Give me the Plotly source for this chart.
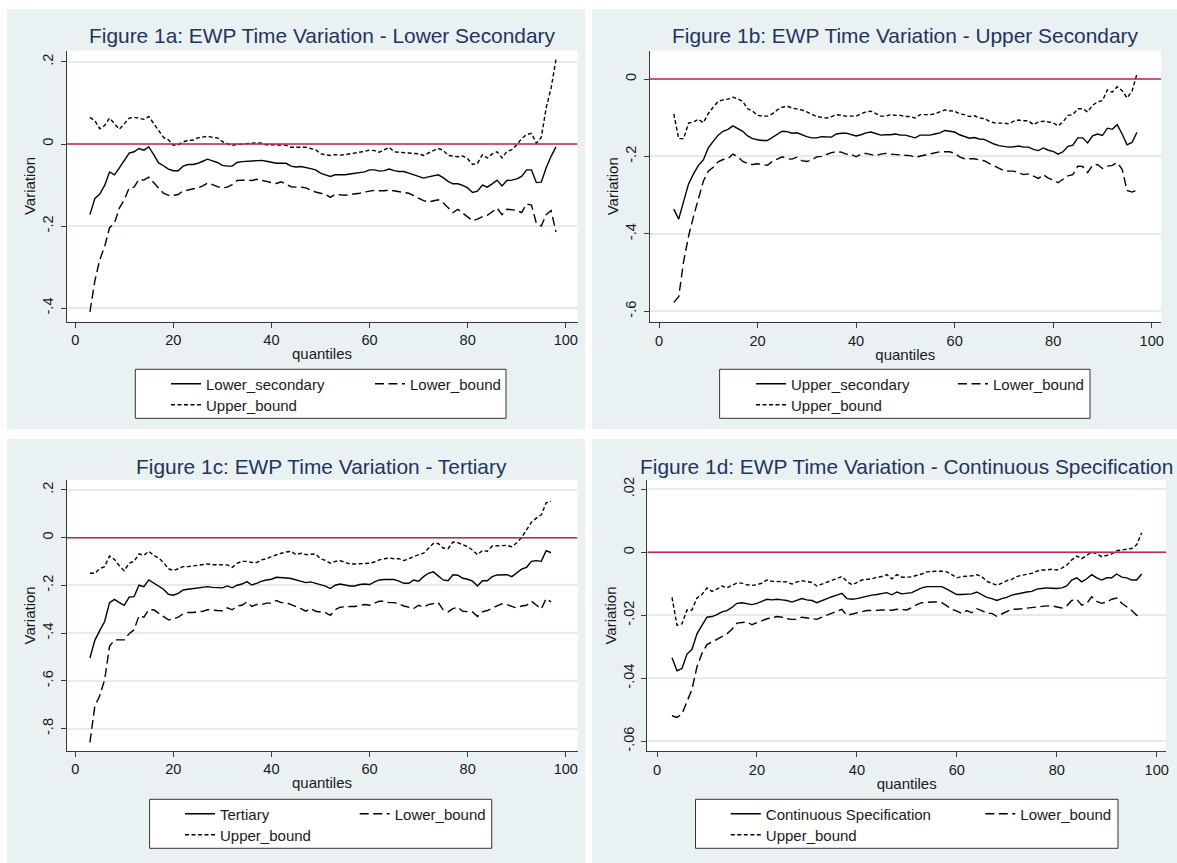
import plotly.graph_objects as go

W, H = 1177, 863
FONT = "Liberation Sans, Arial, sans-serif"

# ---------------- data ----------------
quantiles_a = [3, 4, 5, 6, 7, 8, 9, 10, 11, 12, 13, 14, 15, 16, 17, 18, 19, 20, 21, 22, 23, 24, 25, 26, 27,
               28, 29, 30, 31, 32, 33, 34, 35, 36, 37, 38, 39, 40, 41, 42, 43, 44, 45, 46, 47, 48, 49, 50,
               51, 52, 53, 54, 55, 56, 57, 58, 59, 60, 61, 62, 63, 64, 65, 66, 67, 68, 69, 70, 71, 72, 73,
               74, 75, 76, 77, 78, 79, 80, 81, 82, 83, 84, 85, 86, 87, 88, 89, 90, 91, 92, 93, 94, 95, 96,
               97, 98]
quantiles_bcd = [3, 4, 5, 6, 7, 8, 9, 10, 11, 12, 13, 14, 15, 16, 17, 18, 19, 20, 21, 22, 23, 24, 25, 26, 27,
                 28, 29, 30, 31, 32, 33, 34, 35, 36, 37, 38, 39, 40, 41, 42, 43, 44, 45, 46, 47, 48, 49, 50,
                 51, 52, 53, 54, 55, 56, 57, 58, 59, 60, 61, 62, 63, 64, 65, 66, 67, 68, 69, 70, 71, 72, 73,
                 74, 75, 76, 77, 78, 79, 80, 81, 82, 83, 84, 85, 86, 87, 88, 89, 90, 91, 92, 93, 94, 95, 96,
                 97]

lower_secondary = [-0.172, -0.133, -0.122, -0.101, -0.068, -0.075, -0.058, -0.041, -0.022, -0.019, -0.011,
                   -0.015, -0.007, -0.026, -0.046, -0.053, -0.061, -0.065, -0.065, -0.054, -0.050, -0.050,
                   -0.047, -0.042, -0.037, -0.041, -0.045, -0.052, -0.054, -0.054, -0.045, -0.043, -0.042,
                   -0.042, -0.041, -0.040, -0.042, -0.045, -0.047, -0.047, -0.047, -0.054, -0.056, -0.055,
                   -0.057, -0.060, -0.063, -0.071, -0.075, -0.079, -0.075, -0.075, -0.075, -0.073, -0.071,
                   -0.069, -0.068, -0.063, -0.063, -0.066, -0.065, -0.061, -0.065, -0.067, -0.067, -0.071,
                   -0.075, -0.079, -0.083, -0.080, -0.078, -0.075, -0.082, -0.091, -0.097, -0.097, -0.101,
                   -0.107, -0.118, -0.115, -0.100, -0.105, -0.097, -0.088, -0.102, -0.089, -0.088, -0.085,
                   -0.079, -0.063, -0.063, -0.094, -0.093, -0.058, -0.030, -0.007]
lower_secondary_lb = [-0.409, -0.334, -0.282, -0.250, -0.204, -0.193, -0.156, -0.136, -0.107, -0.105, -0.086,
                      -0.088, -0.081, -0.094, -0.109, -0.120, -0.125, -0.125, -0.123, -0.114, -0.112, -0.110,
                      -0.107, -0.102, -0.095, -0.099, -0.104, -0.107, -0.105, -0.099, -0.089, -0.088, -0.088,
                      -0.089, -0.086, -0.088, -0.091, -0.094, -0.096, -0.092, -0.099, -0.104, -0.105, -0.105,
                      -0.107, -0.112, -0.117, -0.120, -0.123, -0.130, -0.123, -0.124, -0.125, -0.123, -0.122,
                      -0.120, -0.117, -0.115, -0.113, -0.114, -0.114, -0.112, -0.114, -0.115, -0.118, -0.120,
                      -0.126, -0.133, -0.138, -0.141, -0.138, -0.136, -0.143, -0.154, -0.167, -0.159, -0.169,
                      -0.177, -0.187, -0.183, -0.177, -0.174, -0.165, -0.156, -0.172, -0.159, -0.160, -0.162,
                      -0.167, -0.146, -0.149, -0.193, -0.200, -0.172, -0.162, -0.214]
lower_secondary_ub = [0.065, 0.057, 0.037, 0.045, 0.063, 0.049, 0.036, 0.049, 0.063, 0.065, 0.062, 0.060,
                      0.067, 0.049, 0.031, 0.016, 0.010, -0.003, -0.002, 0.005, 0.009, 0.009, 0.015, 0.017,
                      0.019, 0.016, 0.015, 0.006, 0.001, -0.004, 0.000, -0.001, 0.001, 0.002, 0.003, 0.002,
                      -0.002, -0.002, -0.002, -0.002, -0.003, -0.008, -0.008, -0.007, -0.008, -0.011, -0.014,
                      -0.024, -0.026, -0.028, -0.026, -0.027, -0.026, -0.024, -0.022, -0.021, -0.018, -0.015,
                      -0.016, -0.020, -0.013, -0.008, -0.019, -0.020, -0.021, -0.023, -0.023, -0.024, -0.028,
                      -0.021, -0.016, -0.011, -0.015, -0.028, -0.029, -0.031, -0.029, -0.036, -0.050, -0.047,
                      -0.026, -0.034, -0.024, -0.019, -0.034, -0.018, -0.014, -0.002, 0.013, 0.023, 0.026,
                      0.002, 0.016, 0.088, 0.136, 0.206]

upper_secondary = [-0.336, -0.362, -0.316, -0.271, -0.245, -0.223, -0.209, -0.178, -0.161, -0.145, -0.135,
                   -0.130, -0.121, -0.127, -0.135, -0.147, -0.154, -0.157, -0.159, -0.159, -0.151, -0.144,
                   -0.135, -0.136, -0.140, -0.139, -0.145, -0.149, -0.152, -0.152, -0.149, -0.149, -0.150,
                   -0.142, -0.140, -0.140, -0.144, -0.147, -0.144, -0.139, -0.137, -0.142, -0.145, -0.144,
                   -0.144, -0.142, -0.145, -0.145, -0.149, -0.152, -0.145, -0.145, -0.145, -0.142, -0.139,
                   -0.133, -0.135, -0.137, -0.144, -0.149, -0.153, -0.151, -0.155, -0.156, -0.163, -0.168,
                   -0.172, -0.175, -0.176, -0.175, -0.173, -0.176, -0.176, -0.182, -0.185, -0.178, -0.184,
                   -0.187, -0.194, -0.188, -0.174, -0.171, -0.152, -0.152, -0.165, -0.147, -0.142, -0.146,
                   -0.127, -0.130, -0.118, -0.142, -0.170, -0.164, -0.138]
upper_secondary_lb = [-0.577, -0.562, -0.471, -0.406, -0.355, -0.307, -0.264, -0.238, -0.228, -0.214, -0.208,
                      -0.206, -0.194, -0.201, -0.213, -0.218, -0.221, -0.219, -0.221, -0.223, -0.213, -0.207,
                      -0.201, -0.206, -0.207, -0.202, -0.211, -0.213, -0.209, -0.201, -0.200, -0.195, -0.190,
                      -0.188, -0.189, -0.194, -0.195, -0.201, -0.194, -0.192, -0.195, -0.198, -0.194, -0.192,
                      -0.194, -0.195, -0.197, -0.198, -0.198, -0.202, -0.199, -0.197, -0.195, -0.192, -0.188,
                      -0.188, -0.188, -0.192, -0.201, -0.206, -0.206, -0.206, -0.209, -0.211, -0.218, -0.225,
                      -0.231, -0.237, -0.238, -0.238, -0.242, -0.247, -0.245, -0.250, -0.257, -0.247, -0.256,
                      -0.261, -0.268, -0.259, -0.250, -0.247, -0.225, -0.226, -0.242, -0.223, -0.221, -0.231,
                      -0.225, -0.223, -0.216, -0.233, -0.288, -0.292, -0.287]
upper_secondary_ub = [-0.090, -0.154, -0.154, -0.114, -0.111, -0.104, -0.113, -0.089, -0.073, -0.058, -0.054,
                      -0.052, -0.047, -0.051, -0.058, -0.077, -0.083, -0.094, -0.096, -0.096, -0.090, -0.080,
                      -0.073, -0.070, -0.075, -0.078, -0.080, -0.085, -0.090, -0.097, -0.099, -0.101, -0.097,
                      -0.092, -0.094, -0.096, -0.096, -0.096, -0.090, -0.085, -0.083, -0.089, -0.096, -0.096,
                      -0.092, -0.094, -0.094, -0.097, -0.097, -0.101, -0.092, -0.092, -0.092, -0.090, -0.085,
                      -0.080, -0.082, -0.083, -0.090, -0.092, -0.097, -0.095, -0.101, -0.102, -0.109, -0.113,
                      -0.114, -0.114, -0.116, -0.109, -0.106, -0.108, -0.108, -0.118, -0.111, -0.109, -0.111,
                      -0.113, -0.121, -0.111, -0.094, -0.092, -0.077, -0.077, -0.085, -0.068, -0.059, -0.056,
                      -0.028, -0.034, -0.020, -0.030, -0.049, -0.032, 0.013]

tertiary = [-0.504, -0.430, -0.389, -0.351, -0.272, -0.258, -0.272, -0.283, -0.249, -0.247, -0.199, -0.205,
            -0.177, -0.191, -0.202, -0.216, -0.237, -0.241, -0.233, -0.219, -0.216, -0.213, -0.212, -0.210,
            -0.205, -0.208, -0.208, -0.210, -0.202, -0.210, -0.199, -0.194, -0.184, -0.198, -0.191, -0.182,
            -0.177, -0.174, -0.166, -0.169, -0.169, -0.171, -0.177, -0.180, -0.188, -0.185, -0.191, -0.199,
            -0.203, -0.213, -0.199, -0.194, -0.199, -0.202, -0.202, -0.196, -0.194, -0.196, -0.185, -0.177,
            -0.175, -0.175, -0.175, -0.182, -0.191, -0.191, -0.177, -0.182, -0.163, -0.149, -0.143, -0.160,
            -0.177, -0.180, -0.155, -0.157, -0.170, -0.174, -0.182, -0.202, -0.180, -0.180, -0.163, -0.156,
            -0.155, -0.155, -0.163, -0.149, -0.132, -0.124, -0.099, -0.096, -0.099, -0.054, -0.063]
tertiary_lb = [-0.857, -0.706, -0.662, -0.595, -0.455, -0.428, -0.428, -0.428, -0.402, -0.386, -0.327, -0.333,
               -0.302, -0.302, -0.316, -0.330, -0.344, -0.341, -0.333, -0.319, -0.313, -0.313, -0.311, -0.308,
               -0.302, -0.302, -0.305, -0.306, -0.294, -0.302, -0.286, -0.283, -0.269, -0.288, -0.280, -0.280,
               -0.274, -0.274, -0.263, -0.272, -0.272, -0.280, -0.288, -0.297, -0.308, -0.297, -0.308, -0.311,
               -0.314, -0.325, -0.302, -0.291, -0.288, -0.288, -0.288, -0.283, -0.280, -0.283, -0.274, -0.266,
               -0.266, -0.272, -0.272, -0.277, -0.286, -0.291, -0.297, -0.283, -0.291, -0.280, -0.277, -0.272,
               -0.302, -0.311, -0.297, -0.291, -0.308, -0.311, -0.311, -0.330, -0.311, -0.305, -0.294, -0.286,
               -0.277, -0.280, -0.288, -0.294, -0.286, -0.283, -0.266, -0.283, -0.299, -0.255, -0.269]
tertiary_ub = [-0.149, -0.149, -0.130, -0.121, -0.077, -0.091, -0.118, -0.138, -0.107, -0.099, -0.068, -0.074,
               -0.057, -0.074, -0.085, -0.104, -0.130, -0.138, -0.130, -0.121, -0.121, -0.118, -0.116, -0.110,
               -0.110, -0.113, -0.113, -0.113, -0.114, -0.124, -0.107, -0.099, -0.099, -0.104, -0.104, -0.093,
               -0.088, -0.079, -0.071, -0.065, -0.060, -0.057, -0.071, -0.065, -0.071, -0.071, -0.068, -0.088,
               -0.095, -0.107, -0.099, -0.096, -0.104, -0.110, -0.110, -0.110, -0.110, -0.107, -0.102, -0.093,
               -0.088, -0.085, -0.088, -0.088, -0.096, -0.088, -0.077, -0.071, -0.065, -0.043, -0.024, -0.024,
               -0.043, -0.046, -0.018, -0.021, -0.029, -0.038, -0.052, -0.071, -0.054, -0.057, -0.035, -0.035,
               -0.032, -0.032, -0.038, -0.021, 0.001, 0.032, 0.065, 0.082, 0.096, 0.146, 0.152]

continuous = [-0.0335, -0.0376, -0.0369, -0.0323, -0.0308, -0.0259, -0.0232, -0.0206, -0.0204, -0.0198,
              -0.0189, -0.0185, -0.0175, -0.0162, -0.0160, -0.0164, -0.0166, -0.0162, -0.0156, -0.0149,
              -0.0151, -0.0149, -0.0151, -0.0153, -0.0158, -0.0153, -0.0147, -0.0151, -0.0153, -0.0160,
              -0.0153, -0.0147, -0.0141, -0.0136, -0.0130, -0.0147, -0.0149, -0.0147, -0.0143, -0.0139,
              -0.0136, -0.0134, -0.0130, -0.0128, -0.0135, -0.0126, -0.0132, -0.0130, -0.0128, -0.0120,
              -0.0113, -0.0109, -0.0109, -0.0109, -0.0109, -0.0117, -0.0126, -0.0134, -0.0134, -0.0134,
              -0.0132, -0.0126, -0.0134, -0.0143, -0.0147, -0.0153, -0.0147, -0.0143, -0.0136, -0.0132,
              -0.0128, -0.0126, -0.0124, -0.0117, -0.0115, -0.0113, -0.0114, -0.0115, -0.0113, -0.0107,
              -0.0088, -0.0081, -0.0094, -0.0084, -0.0071, -0.0081, -0.0088, -0.0081, -0.0081, -0.0069,
              -0.0079, -0.0081, -0.0088, -0.0088, -0.0069]
continuous_lb = [-0.0519, -0.0524, -0.0513, -0.0473, -0.0435, -0.0363, -0.0321, -0.0293, -0.0285, -0.0278,
                 -0.0268, -0.0259, -0.0244, -0.0225, -0.0223, -0.0221, -0.0230, -0.0223, -0.0217, -0.0211,
                 -0.0208, -0.0204, -0.0206, -0.0211, -0.0213, -0.0213, -0.0206, -0.0208, -0.0211, -0.0213,
                 -0.0206, -0.0200, -0.0194, -0.0189, -0.0181, -0.0200, -0.0196, -0.0192, -0.0189, -0.0185,
                 -0.0185, -0.0183, -0.0183, -0.0183, -0.0184, -0.0181, -0.0183, -0.0183, -0.0175, -0.0166,
                 -0.0160, -0.0158, -0.0158, -0.0158, -0.0160, -0.0170, -0.0181, -0.0187, -0.0194, -0.0185,
                 -0.0192, -0.0179, -0.0185, -0.0194, -0.0194, -0.0203, -0.0196, -0.0187, -0.0181, -0.0181,
                 -0.0179, -0.0177, -0.0175, -0.0173, -0.0173, -0.0170, -0.0170, -0.0173, -0.0177, -0.0170,
                 -0.0153, -0.0149, -0.0168, -0.0162, -0.0141, -0.0156, -0.0162, -0.0158, -0.0149, -0.0145,
                 -0.0162, -0.0173, -0.0185, -0.0200, -0.0203]
continuous_ub = [-0.0143, -0.0232, -0.0227, -0.0183, -0.0183, -0.0145, -0.0134, -0.0113, -0.0124, -0.0117,
                 -0.0107, -0.0113, -0.0105, -0.0098, -0.0098, -0.0103, -0.0105, -0.0103, -0.0098, -0.0088,
                 -0.0092, -0.0092, -0.0094, -0.0094, -0.0101, -0.0094, -0.0090, -0.0094, -0.0096, -0.0107,
                 -0.0101, -0.0094, -0.0090, -0.0084, -0.0077, -0.0092, -0.0103, -0.0096, -0.0088, -0.0086,
                 -0.0084, -0.0079, -0.0077, -0.0071, -0.0084, -0.0071, -0.0079, -0.0079, -0.0078, -0.0073,
                 -0.0069, -0.0062, -0.0060, -0.0060, -0.0060, -0.0062, -0.0071, -0.0081, -0.0077, -0.0077,
                 -0.0075, -0.0071, -0.0077, -0.0092, -0.0098, -0.0105, -0.0098, -0.0090, -0.0086, -0.0077,
                 -0.0073, -0.0071, -0.0067, -0.0060, -0.0056, -0.0056, -0.0054, -0.0056, -0.0050, -0.0041,
                 -0.0024, -0.0012, -0.0020, -0.0010, 0.0001, -0.0005, -0.0014, -0.0010, -0.0005, 0.0005,
                 0.0007, 0.0010, 0.0012, 0.0024, 0.0062]

x_tickvals = [0, 20, 40, 60, 80, 100]
x_ticktext = ["0", "20", "40", "60", "80", "100"]
yticks_a = [0.2, 0, -0.2, -0.4]
yticktext_a = [".2", "0", "-.2", "-.4"]
yticks_b = [0, -0.2, -0.4, -0.6]
yticktext_b = ["0", "-.2", "-.4", "-.6"]
yticks_c = [0.2, 0, -0.2, -0.4, -0.6, -0.8]
yticktext_c = [".2", "0", "-.2", "-.4", "-.6", "-.8"]
yticks_d = [0.02, 0, -0.02, -0.04, -0.06]
yticktext_d = [".02", "0", "-.02", "-.04", "-.06"]

titles = ["Figure 1a: EWP Time Variation - Lower Secondary",
          "Figure 1b: EWP Time Variation - Upper Secondary",
          "Figure 1c: EWP Time Variation - Tertiary",
          "Figure 1d: EWP Time Variation - Continuous Specification"]
main_names = ["Lower_secondary", "Upper_secondary", "Tertiary", "Continuous Specification"]

# ---------------- layout geometry (pixels) ----------------
panels = [
    dict(q=quantiles_a, main=lower_secondary, lb=lower_secondary_lb, ub=lower_secondary_ub,
         yt=yticks_a, ytt=yticktext_a,
         bg=(7, 585, 9, 429), plot=(66.5, 577.5, 50.5, 321.5), xpx=(75.2, 565.8), ypx=((0, 144.0), (-0.4, 308.2)),
         title_xy=(322, 36), leg=(135.3, 506, 369.3, 418.3), text1=206, text2=410, rows=(384, 405)),
    dict(q=quantiles_bcd, main=upper_secondary, lb=upper_secondary_lb, ub=upper_secondary_ub,
         yt=yticks_b, ytt=yticktext_b,
         bg=(592, 1177, 9, 429), plot=(649.7, 1161, 50.5, 322), xpx=(659, 1151.7), ypx=((0, 79.0), (-0.6, 311.3)),
         title_xy=(905, 36), leg=(719.6, 1090, 369.3, 418.3), text1=791, text2=993, rows=(384, 405)),
    dict(q=quantiles_bcd, main=tertiary, lb=tertiary_lb, ub=tertiary_ub,
         yt=yticks_c, ytt=yticktext_c,
         bg=(7, 585, 439, 863), plot=(66.5, 577.5, 480, 750.7), xpx=(75.2, 565.8), ypx=((0, 537.7), (-0.8, 728.7)),
         title_xy=(321.5, 466), leg=(149.6, 491.7, 799.3, 848.3), text1=220, text2=394.7, rows=(814, 835)),
    dict(q=quantiles_bcd, main=continuous, lb=continuous_lb, ub=continuous_ub,
         yt=yticks_d, ytt=yticktext_d,
         bg=(592, 1177, 439, 863), plot=(647.4, 1166, 480, 751), xpx=(657, 1156.7), ypx=((0, 552.3), (-0.06, 741.3)),
         title_xy=(906.7, 466), leg=(695.5, 1118, 799.3, 848.3), text1=765.8, text2=1020.3, rows=(814, 835)),
]


def fx(px):
    return px / W


def fy(py):
    return 1 - py / H


BG = "#E9F1F3"
GRID = "#E3EBEE"
AXIS = "#3a3a3a"
TITLE_COLOR = "#23345E"
RED = "#C8234A"
LW = 1.4
TICK_SIZE = 14.6
AXT_SIZE = 15
LEG_SIZE = 15
TITLE_SIZE = 20.9

fig = go.Figure()
layout = dict(
    width=W, height=H, margin=dict(l=0, r=0, t=0, b=0, pad=0), autosize=False,
    paper_bgcolor="white", plot_bgcolor="rgba(0,0,0,0)",
    font=dict(family=FONT, color="#1a1a1a", size=14),
    showlegend=True, shapes=[], annotations=[],
)

for i, p in enumerate(panels):
    n = i + 1
    xa = "x" if n == 1 else f"x{n}"
    ya = "y" if n == 1 else f"y{n}"
    leg1 = "legend" if n == 1 else f"legend{2 * n - 1}"
    leg2 = f"legend{2 * n}"

    l, r, t, b = p["plot"]
    x0px, x100px = p["xpx"]
    ppu_x = (x100px - x0px) / 100.0
    xr = [(l - x0px) / ppu_x, (r - x0px) / ppu_x]
    (v1, py1), (v2, py2) = p["ypx"]
    ppu_y = (py2 - py1) / (v2 - v1)
    yr = [v1 + (b - py1) / ppu_y, v1 + (t - py1) / ppu_y]

    spacing = p["text2"] - p["text1"]
    fig.add_trace(go.Scatter(x=p["q"], y=p["main"], mode="lines", name=main_names[i],
                             line=dict(color="black", width=LW), xaxis=xa, yaxis=ya, legend=leg1,
                             legendwidth=spacing - 45))
    fig.add_trace(go.Scatter(x=p["q"], y=p["lb"], mode="lines", name="Lower_bound",
                             line=dict(color="black", width=LW, dash="9px,4.5px"), xaxis=xa, yaxis=ya,
                             legend=leg1, legendwidth=90))
    fig.add_trace(go.Scatter(x=p["q"], y=p["ub"], mode="lines", name="Upper_bound",
                             line=dict(color="black", width=LW, dash="4px,2.5px"), xaxis=xa, yaxis=ya,
                             legend=leg2, legendwidth=90))

    xkey = "xaxis" if n == 1 else f"xaxis{n}"
    ykey = "yaxis" if n == 1 else f"yaxis{n}"
    layout[xkey] = dict(
        domain=[fx(l), fx(r)], range=xr, anchor=ya, fixedrange=True, automargin=False,
        tickmode="array", tickvals=x_tickvals, ticktext=x_ticktext,
        ticks="outside", ticklen=5, tickwidth=1, tickcolor=AXIS,
        showline=True, linecolor=AXIS, linewidth=1, mirror=False,
        showgrid=False, zeroline=False,
        tickfont=dict(size=TICK_SIZE, color="#1a1a1a", family=FONT),
        title=dict(text="quantiles", font=dict(size=AXT_SIZE, color="#1a1a1a", family=FONT), standoff=1),
    )
    layout[ykey] = dict(
        domain=[fy(b), fy(t)], range=yr, anchor=xa, fixedrange=True, automargin=False,
        tickmode="array", tickvals=p["yt"], ticktext=p["ytt"], tickangle=-90,
        ticks="outside", ticklen=5, tickwidth=1, tickcolor=AXIS, ticklabelstandoff=2,
        showline=True, linecolor=AXIS, linewidth=1, mirror=False,
        showgrid=True, gridcolor=GRID, gridwidth=1.5, zeroline=False,
        tickfont=dict(size=TICK_SIZE, color="#1a1a1a", family=FONT),
        title=dict(text="Variation", font=dict(size=AXT_SIZE, color="#1a1a1a", family=FONT), standoff=0),
    )

    # panel background and white plot region
    bx0, bx1, by0, by1 = p["bg"]
    layout["shapes"].append(dict(type="rect", xref="paper", yref="paper", layer="below",
                                 x0=fx(bx0), x1=fx(bx1), y0=fy(by1), y1=fy(by0),
                                 fillcolor=BG, line=dict(width=0)))
    layout["shapes"].append(dict(type="rect", xref="paper", yref="paper", layer="below",
                                 x0=fx(l), x1=fx(r), y0=fy(b), y1=fy(t),
                                 fillcolor="white", line=dict(width=0)))
    # legend box
    lx0, lx1, ly0, ly1 = p["leg"]
    layout["shapes"].append(dict(type="rect", xref="paper", yref="paper", layer="below",
                                 x0=fx(lx0), x1=fx(lx1), y0=fy(ly1), y1=fy(ly0),
                                 fillcolor="white", line=dict(color="#333333", width=1)))
    # zero reference line (yline(0))
    layout["shapes"].append(dict(type="line", xref=xa, yref=ya, layer="above",
                                 x0=xr[0], x1=xr[1], y0=0, y1=0, line=dict(color=RED, width=1.6)))

    # title
    tx, ty = p["title_xy"]
    layout["annotations"].append(dict(text=titles[i], xref="paper", yref="paper", x=fx(tx), y=fy(ty),
                                      xanchor="center", yanchor="middle", showarrow=False,
                                      font=dict(size=TITLE_SIZE, color=TITLE_COLOR, family=FONT)))

    # legends (two rows, like Stata's 2-column legend)
    legfont = dict(size=LEG_SIZE, color="#1a1a1a", family=FONT)
    lx = fx(p["text1"] - 40)
    layout[leg1] = dict(orientation="h", x=lx, y=fy(p["rows"][0]),
                        xanchor="left", yanchor="middle", bgcolor="rgba(0,0,0,0)", borderwidth=0,
                        font=legfont, itemclick=False, itemdoubleclick=False, tracegroupgap=0)
    layout[leg2] = dict(orientation="h", x=lx, y=fy(p["rows"][1]),
                        xanchor="left", yanchor="middle", bgcolor="rgba(0,0,0,0)", borderwidth=0,
                        font=legfont, itemclick=False, itemdoubleclick=False, tracegroupgap=0)

fig.update_layout(**layout)
fig.write_html("out.html", config={"displayModeBar": False, "staticPlot": False},
               post_script="document.body.style.margin='0px';document.body.style.overflow='hidden';")
